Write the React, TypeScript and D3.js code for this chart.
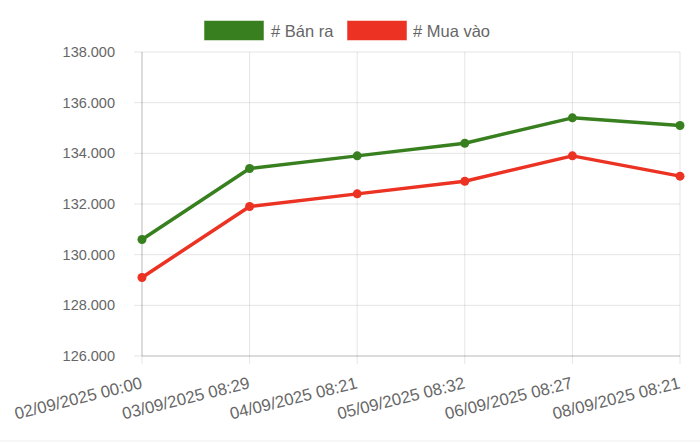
import React from "react";
import * as d3 from "d3";

const categories = [
  "02/09/2025 00:00",
  "03/09/2025 08:29",
  "04/09/2025 08:21",
  "05/09/2025 08:32",
  "06/09/2025 08:27",
  "08/09/2025 08:21",
];
const banRa = [130600, 133400, 133900, 134400, 135400, 135100];
const muaVao = [129100, 131900, 132400, 132900, 133900, 133100];
const yTicks = [126000, 128000, 130000, 132000, 134000, 136000, 138000];
const seriesNames = ["# Bán ra", "# Mua vào"];
const seriesColors = ["#38801f", "#eb3223"];

const W = 700, H = 443;
const left = 142, right = 680, top = 52, bottom = 356;
const font = "'Liberation Sans', Arial, Helvetica, sans-serif";

export default function App() {
  const x = d3.scalePoint<string>().domain(categories).range([left, right]);
  const y = d3.scaleLinear().domain([126000, 138000]).range([bottom, top]);
  const fmt = (v: number) => d3.format(",")(v).replace(/,/g, ".");
  const line = d3
    .line<number>()
    .x((_, i) => x(categories[i]) as number)
    .y((d) => y(d));
  const series = [banRa, muaVao];
  const grid = "rgba(0,0,0,0.1)";
  return (
    <svg
      width={W}
      height={H}
      style={{ position: "fixed", left: 0, top: 0, background: "#fff" }}
      fontFamily={font}
    >
      {yTicks.map((t) => (
        <g key={t}>
          <line x1={left - 8} x2={right} y1={y(t)} y2={y(t)} stroke={grid} strokeWidth={1} />
          <text x={left - 27} y={y(t)} dy="0.35em" textAnchor="end" fontSize={14.5} fill="#666">
            {fmt(t)}
          </text>
        </g>
      ))}
      {categories.map((c) => (
        <g key={c}>
          <line x1={x(c)} x2={x(c)} y1={top} y2={bottom + 8} stroke={grid} strokeWidth={1} />
          <text
            transform={`translate(${(x(c) as number) + 1},388) rotate(-14)`}
            textAnchor="end"
            fontSize={16.8}
            fill="#666"
          >
            {c}
          </text>
        </g>
      ))}
      <line x1={left} x2={left} y1={top} y2={bottom} stroke="rgba(0,0,0,0.18)" />
      <line x1={left} x2={right} y1={bottom} y2={bottom} stroke="rgba(0,0,0,0.18)" />
      {series.map((s, si) => (
        <g key={si}>
          <path d={line(s) || ""} fill="none" stroke={seriesColors[si]} strokeWidth={3.5} strokeLinejoin="round" />
          {s.map((v, i) => (
            <circle key={i} cx={x(categories[i])} cy={y(v)} r={4.5} fill={seriesColors[si]} />
          ))}
        </g>
      ))}
      <g>
        <rect x={204} y={20.5} width={60} height={20} fill={seriesColors[0]} stroke="rgba(255,255,255,0.5)" />
        <text x={271} y={31} dy="0.35em" fontSize={16.5} fill="#666">{seriesNames[0]}</text>
        <rect x={347} y={20.5} width={60} height={20} fill={seriesColors[1]} stroke="rgba(255,255,255,0.5)" />
        <text x={413} y={31} dy="0.35em" fontSize={16.5} fill="#666">{seriesNames[1]}</text>
      </g>
      <line x1={0} x2={W} y1={441} y2={441} stroke="#eee" />
    </svg>
  );
}
